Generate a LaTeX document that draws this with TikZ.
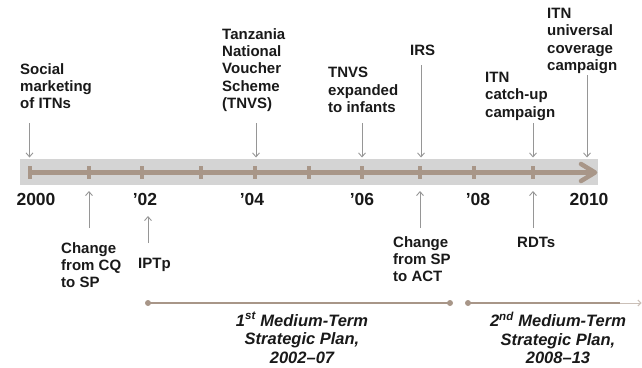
\documentclass[tikz,border=0pt]{standalone}
\usepackage{fontspec}
\setmainfont{Liberation Sans}
\usetikzlibrary{arrows.meta}
\definecolor{taupe}{RGB}{168,150,136}
\definecolor{bandgrey}{RGB}{212,212,212}
\definecolor{pin}{RGB}{150,150,150}
\definecolor{ink}{RGB}{25,25,25}
\begin{document}
\begin{tikzpicture}[x=1pt,y=-1pt,
  lbl/.style={font=\fontsize{15}{17.4}\selectfont\bfseries, text=ink, align=left, anchor=north west, inner sep=0pt},
  yr/.style={font=\fontsize{17.5}{20}\selectfont\bfseries, text=ink, inner sep=0pt, anchor=center},
  plan/.style={font=\fontsize{16.5}{18.5}\selectfont\bfseries\itshape, text=ink, align=center, anchor=north, inner sep=0pt},
  pinline/.style={draw=pin, line width=0.9pt, -{Straight Barb[length=4pt,width=7pt]}},
  tickmark/.style={draw=taupe, line width=4pt},
  axisline/.style={draw=taupe, line width=4.5pt},
  planline/.style={draw=taupe, line width=1.3pt},
  plandot/.style={fill=taupe}]
\useasboundingbox (0,0) rectangle (642,367);
% band
\fill[bandgrey] (20,159) rectangle (598,185);
% tick coordinates
\foreach \i/\x in {0/29.5,1/89,2/142,3/201,4/255,5/309,6/362,7/420,8/474,9/533}{
  \coordinate (t\i) at (\x,172.5);
  \draw[tickmark] (\x,166) -- (\x,179);
}
\coordinate (axisend) at (594,172.5);
\draw[axisline] (t0) -- (axisend);
\draw[axisline, line join=round, line cap=round] (581,164) -- (595,172.5) -- (581,181);
% year labels
\node[yr] (y2000) at (36,199) {2000};
\node[yr] (y02) at (145,199) {’02};
\node[yr] (y04) at (252,199) {’04};
\node[yr] (y06) at (362,199) {’06};
\node[yr] (y08) at (478,199) {’08};
\node[yr] (y2010) at (589,199) {2010};
% top labels
\node[lbl] (social) at (20,63) {Social\\marketing\\of ITNs};
\node[lbl] (tnvs) at (222,28) {Tanzania\\National\\Voucher\\Scheme\\(TNVS)};
\node[lbl] (tnvsx) at (328,67) {TNVS\\expanded\\to infants};
\node[lbl] (irs) at (410,45) {IRS};
\node[lbl] (catchup) at (485,72) {ITN\\catch-up\\campaign};
\node[lbl] (univ) at (547,8) {ITN\\universal\\coverage\\campaign};
% bottom labels
\node[lbl] (cq) at (61,242) {Change\\from CQ\\to SP};
\node[lbl] (iptp) at (138,258) {IPTp};
\node[lbl] (act) at (393,236) {Change\\from SP\\to ACT};
\node[lbl] (rdt) at (517,237) {RDTs};
% top pins
\coordinate (socialS) at (29.5,123); \coordinate (socialE) at (29.5,157.5);
\coordinate (tnvsS) at (256,123); \coordinate (tnvsE) at (256,157.5);
\coordinate (tnvsxS) at (362,123); \coordinate (tnvsxE) at (362,157.5);
\coordinate (irsS) at (421,65); \coordinate (irsE) at (421,157.5);
\coordinate (catchupS) at (533,123); \coordinate (catchupE) at (533,157.5);
\coordinate (univS) at (587,75); \coordinate (univE) at (587,157.5);
\foreach \n in {social,tnvs,tnvsx,irs,catchup,univ}{
  \draw[pinline] (\n S) -- (\n E);
}
% bottom pins
\coordinate (cqS) at (89,228); \coordinate (cqE) at (89,191);
\coordinate (iptpS) at (148,243); \coordinate (iptpE) at (148,216);
\coordinate (actS) at (420,228); \coordinate (actE) at (420,191);
\coordinate (rdtS) at (533,228); \coordinate (rdtE) at (533,191);
\foreach \n in {cq,iptp,act,rdt}{
  \draw[pinline] (\n S) -- (\n E);
}
% plans
\coordinate (p1a) at (148,303); \coordinate (p1b) at (450,303);
\coordinate (p2a) at (468,303); \coordinate (p2b) at (641.5,303);
\draw[planline] (p1a) -- (p1b);
\fill[plandot] (p1a) circle (3); \fill[plandot] (p1b) circle (3);
\draw[planline] (p2a) -- (620,303);
\draw[draw=taupe!60, line width=1pt, -{Straight Barb[length=3pt,width=6pt]}] (620,303) -- (p2b);
\fill[plandot] (p2a) circle (3);
\node[plan] (plan1) at (302,312) {1\textsuperscript{st} Medium-Term\\Strategic Plan,\\2002–07};
\node[plan] (plan2) at (558,312) {2\textsuperscript{nd} Medium-Term\\Strategic Plan,\\2008–13};
\end{tikzpicture}
\end{document}
